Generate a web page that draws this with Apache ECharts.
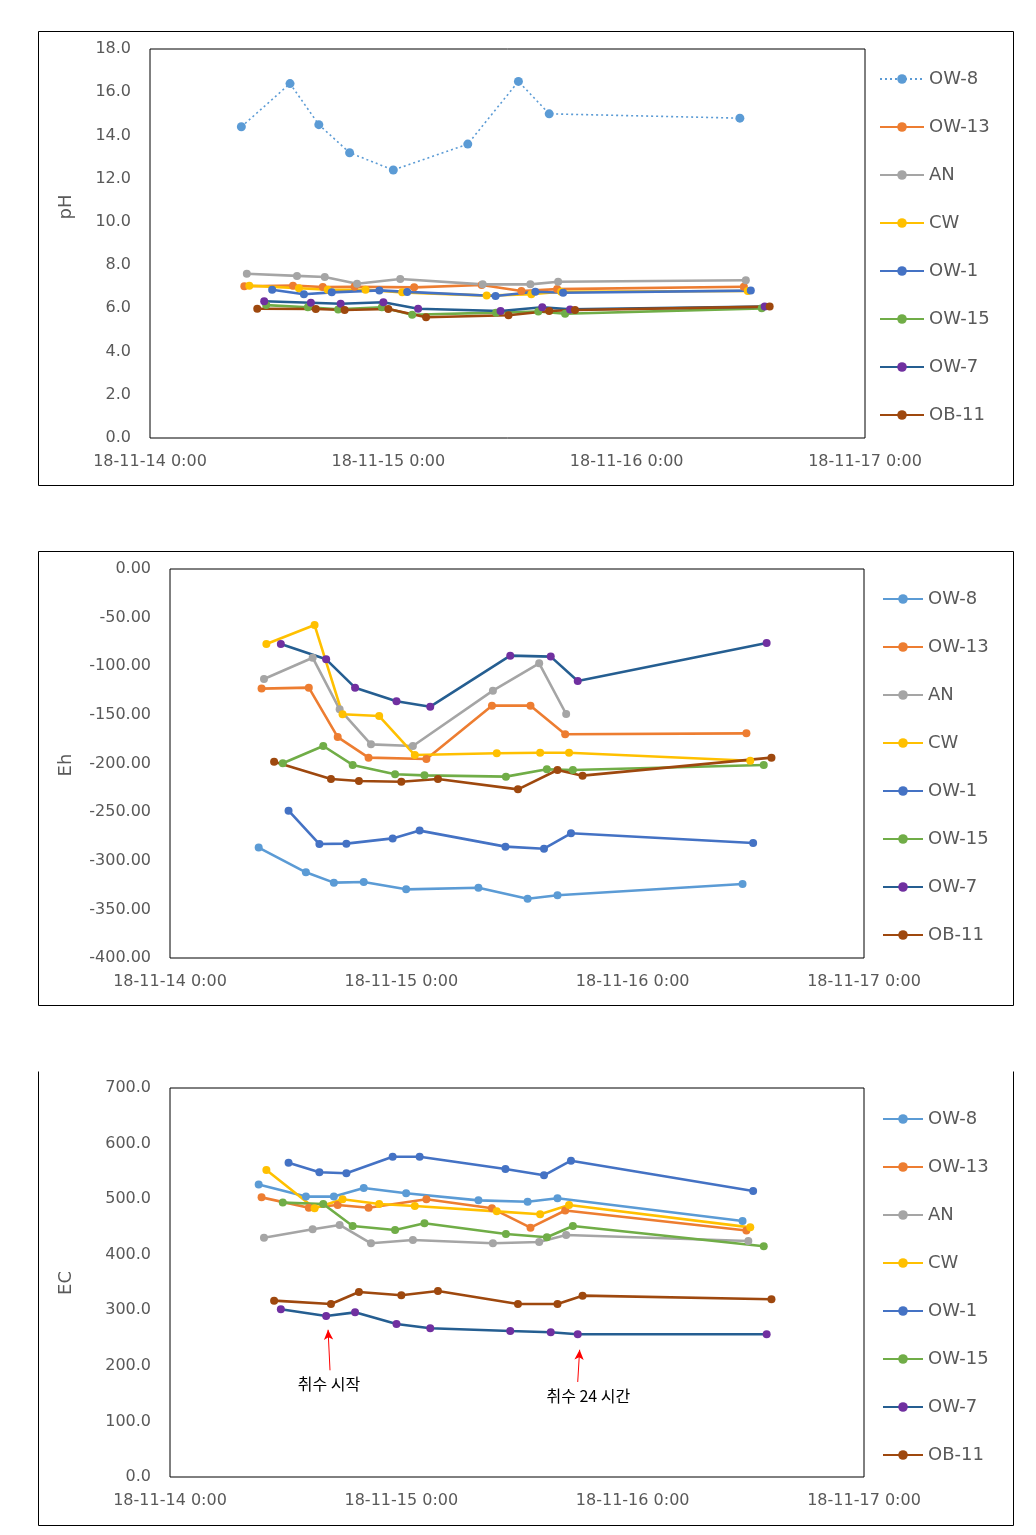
<!DOCTYPE html>
<html><head><meta charset="utf-8">
<script src="https://cdn.jsdelivr.net/npm/echarts@6/dist/echarts.min.js"></script>
<style>
html,body{margin:0;padding:0;background:#fff}
.p{position:absolute;left:0;width:1036px}
</style>
</head><body>
<div id="p1" class="p" style="top:0;height:520px"></div>
<div id="p2" class="p" style="top:520px;height:520px"></div>
<div id="p3" class="p" style="top:1040px;height:495px"></div>
<script>
// ---- tick labels / categories ----
const X_TICKS = ['18-11-14 0:00', '18-11-15 0:00', '18-11-16 0:00', '18-11-17 0:00'];
const WELLS = ['OW-8', 'OW-13', 'AN', 'CW', 'OW-1', 'OW-15', 'OW-7', 'OB-11'];

// ---- sampling times (hours after 18-11-14 0:00) ----
const t_OW8  = [9.2, 14.1, 17.0, 20.1, 24.5, 32.0, 37.1, 40.2, 59.4];
const t_OW13 = [9.5, 14.4, 17.4, 20.6, 26.6, 33.4, 37.4, 41.0, 59.8];
const t_AN   = [9.75, 14.8, 17.6, 20.85, 25.2, 33.5, 38.3, 41.1, 60.0];
const t_CW   = [10.0, 15.0, 17.9, 21.7, 25.4, 33.9, 38.4, 41.4, 60.2];
const t_OW1  = [12.3, 15.5, 18.3, 23.1, 25.9, 34.8, 38.8, 41.6, 60.5];
const t_OW15 = [11.7, 15.9, 18.95, 23.35, 26.4, 34.85, 39.1, 41.8, 61.6];
const t_OW7  = [11.5, 16.2, 19.2, 23.5, 27.0, 35.3, 39.5, 42.3, 61.9];
const t_OB11 = [10.8, 16.7, 19.6, 24.0, 27.8, 36.1, 40.2, 42.8, 62.4];

// ---- pH ----
const pH_OW8  = [14.4, 16.4, 14.5, 13.2, 12.4, 13.6, 16.5, 15.0, 14.8];
const pH_OW13 = [7.02, 7.05, 6.99, 7.00, 6.97, 7.08, 6.80, 6.89, 7.00];
const pH_AN   = [7.60, 7.50, 7.45, 7.14, 7.36, 7.11, 7.11, 7.23, 7.30];
const pH_CW   = [7.05, 6.93, 6.86, 6.86, 6.74, 6.59, 6.65, 6.77, 6.80];
const pH_OW1  = [6.86, 6.65, 6.74, 6.83, 6.76, 6.57, 6.77, 6.72, 6.82];
const pH_OW15 = [6.15, 6.05, 5.95, 6.05, 5.70, 5.80, 5.85, 5.75, 6.00];
const pH_OW7  = [6.33, 6.26, 6.21, 6.28, 5.98, 5.88, 6.05, 5.95, 6.08];
const pH_OB11 = [5.98, 5.97, 5.92, 5.97, 5.59, 5.68, 5.88, 5.92, 6.08];

// ---- Eh ----
const Eh_OW8  = [-286.5, -311.9, -322.5, -321.9, -329.4, -327.7, -339.0, -335.5, -323.9];
const Eh_OW13 = [-123.0, -122.0, -172.8, -194.0, -195.4, -140.5, -140.5, -170.0, -169.0];
const Eh_AN   = [-113.1, -91.2, -144.3, -180.3, -182.0, -125.1, -97.0, -149.1, null];
const Eh_CW   = [-77.1, -57.6, -149.4, -151.2, -191.3, -189.5, -188.9, -188.9, -197.1];
const Eh_OW1  = [-248.5, -282.8, -282.4, -277.0, -269.0, -285.5, -287.6, -271.8, -281.7];
const Eh_OW15 = [-199.8, -182.0, -201.5, -211.1, -212.2, -213.5, -206.0, -206.7, -201.5];
const Eh_OW7  = [-77.1, -92.9, -122.0, -136.0, -141.6, -89.1, -90.1, -115.2, -76.1];
const Eh_OB11 = [-198.1, -216.0, -218.0, -218.7, -216.0, -226.6, -206.7, -212.5, -194.0];

// ---- EC ----
const EC_OW8  = [526.2, 504.6, 504.6, 520.0, 510.5, 497.8, 495.4, 501.5, 460.7];
const EC_OW13 = [503.2, 484.6, 489.5, 484.6, 499.7, 483.5, 448.6, 479.6, 443.5];
const EC_AN   = [430.6, 445.7, 453.5, 420.5, 426.5, 420.5, 422.9, 435.5, 424.7];
const EC_CW   = [552.5, 483.5, 499.7, 491.3, 487.7, 478.0, 472.7, 489.5, 449.2];
const EC_OW1  = [565.6, 548.3, 546.5, 576.4, 576.4, 554.3, 542.9, 569.2, 514.7];
const EC_OW15 = [493.8, 491.3, 451.7, 444.5, 456.5, 437.3, 431.4, 451.7, 415.3];
const EC_OW7  = [301.9, 289.7, 296.3, 275.3, 267.6, 262.7, 260.4, 256.9, 256.9];
const EC_OB11 = [317.3, 311.3, 332.9, 327.0, 334.7, 311.3, 311.3, 326.3, 319.8];

// ---- annotations (EC panel) ----
const NOTE_TEXT = ['취수 시작', '취수 24 시간'];

const TIMES = [t_OW8, t_OW13, t_AN, t_CW, t_OW1, t_OW15, t_OW7, t_OB11];
const PH = [pH_OW8, pH_OW13, pH_AN, pH_CW, pH_OW1, pH_OW15, pH_OW7, pH_OB11];
const EH = [Eh_OW8, Eh_OW13, Eh_AN, Eh_CW, Eh_OW1, Eh_OW15, Eh_OW7, Eh_OB11];
const EC = [EC_OW8, EC_OW13, EC_AN, EC_CW, EC_OW1, EC_OW15, EC_OW7, EC_OB11];

// ---- styles ----
const LINE_COLOR = ['#5B9BD5', '#ED7D31', '#A5A5A5', '#FFC000', '#4472C4', '#70AD47', '#255E91', '#9E480E'];
const MARK_COLOR = ['#5B9BD5', '#ED7D31', '#A5A5A5', '#FFC000', '#4472C4', '#70AD47', '#7030A0', '#9E480E'];
const FONT = '"DejaVu Sans", "Noto Sans", sans-serif';
const KFONT = '"Noto Sans CJK KR", sans-serif';
const TXT = '#595959';

function pair(t, v) {
  const out = [];
  for (let i = 0; i < t.length; i++) if (v[i] !== null && v[i] !== undefined) out.push([t[i], v[i]]);
  return out;
}

function makeOption(cfg) {
  const series = WELLS.map((name, i) => {
    const dottedOW8 = cfg.dottedFirst && i === 0;
    return {
      name: name,
      type: 'line',
      data: pair(TIMES[i], cfg.values[i]),
      symbol: 'circle',
      symbolSize: dottedOW8 ? 9 : 8,
      showSymbol: true,
      clip: false,
      lineStyle: { color: LINE_COLOR[i], width: dottedOW8 ? 1.6 : 2.6, type: dottedOW8 ? [2, 3] : 'solid' },
      itemStyle: { color: MARK_COLOR[i], borderWidth: 0 },
      emphasis: { disabled: true },
      animation: false
    };
  });
  if (cfg.notes) {
    const s = series[6];
    s.markLine = {
      silent: true,
      symbol: ['none', 'arrow'],
      symbolSize: [7, 10],
      label: { show: false },
      lineStyle: { color: '#FF0000', type: 'solid', width: 1 },
      data: [
        [{ coord: [16.6, 192] }, { coord: [16.4, 265] }],
        [{ coord: [42.3, 171] }, { coord: [42.5, 229] }]
      ],
      animation: false
    };
    s.markPoint = {
      silent: true,
      symbol: 'circle',
      symbolSize: 0,
      label: { show: true, position: 'inside', color: '#000', fontSize: 16, fontFamily: KFONT },
      data: [
        { coord: [16.5, 168], value: NOTE_TEXT[0], label: { formatter: NOTE_TEXT[0] } },
        { coord: [43.4, 145], value: NOTE_TEXT[1], label: { formatter: NOTE_TEXT[1] } }
      ],
      animation: false
    };
  }
  const border = cfg.openTop
    ? [
        { type: 'polyline', shape: { points: [[38.5, 31.5], [38.5, 485.5], [1013.5, 485.5], [1013.5, 31.5]] }, style: { fill: 'none', stroke: '#000', lineWidth: 1 }, silent: true, z: -1 }
      ]
    : [
        { type: 'rect', shape: { x: 38.5, y: 31.5, width: 975, height: 454 }, style: { fill: 'none', stroke: '#000', lineWidth: 1 }, silent: true, z: -1 }
      ];
  return {
    animation: false,
    textStyle: { fontFamily: FONT },
    grid: { left: cfg.left, top: cfg.top, width: cfg.width, height: 389, show: true, borderColor: '#000', borderWidth: 1, backgroundColor: 'transparent', containLabel: false },
    xAxis: {
      type: 'value', min: 0, max: 72, interval: 24,
      axisLine: { show: false }, axisTick: { show: false }, splitLine: { show: false },
      axisLabel: { color: TXT, fontSize: 16, fontFamily: FONT, margin: 16, formatter: v => X_TICKS[Math.round(v / 24)] }
    },
    yAxis: {
      type: 'value', min: cfg.ymin, max: cfg.ymax, interval: cfg.yint,
      axisLine: { show: false }, axisTick: { show: false }, splitLine: { show: false },
      axisLabel: { color: TXT, fontSize: 16, fontFamily: FONT, margin: 19, padding: [4, 0, 0, 0], formatter: v => v.toFixed(cfg.dec) }
    },
    legend: {
      orient: 'vertical', left: cfg.legLeft, top: 65,
      itemWidth: cfg.legW, itemHeight: 12, itemGap: 30,
      textStyle: { color: TXT, fontSize: 18, fontFamily: FONT },
      data: WELLS
    },
    graphic: border.concat([
      { type: 'text', x: 66, y: cfg.nameY, rotation: Math.PI / 2, style: { text: cfg.yname, fill: TXT, fontSize: 18, fontFamily: FONT, align: 'center', verticalAlign: 'middle' }, silent: true }
    ]),
    series: series
  };
}

const cfgs = [
  { el: 'p1', values: PH, dottedFirst: true, left: 150, top: 49, width: 715, ymin: 0, ymax: 18, yint: 2, dec: 1, legLeft: 874, legW: 44, yname: 'pH', nameY: 207 },
  { el: 'p2', values: EH, dottedFirst: false, left: 170, top: 49, width: 694, ymin: -400, ymax: 0, yint: 50, dec: 2, legLeft: 877, legW: 40, yname: 'Eh', nameY: 245 },
  { el: 'p3', values: EC, dottedFirst: false, left: 170, top: 48, width: 694, ymin: 0, ymax: 700, yint: 100, dec: 1, legLeft: 877, legW: 40, yname: 'EC', nameY: 243, notes: true, openTop: true }
];
cfgs.forEach(c => {
  const chart = echarts.init(document.getElementById(c.el), null, { renderer: 'canvas' });
  chart.setOption(makeOption(c));
});
</script>
</body></html>
